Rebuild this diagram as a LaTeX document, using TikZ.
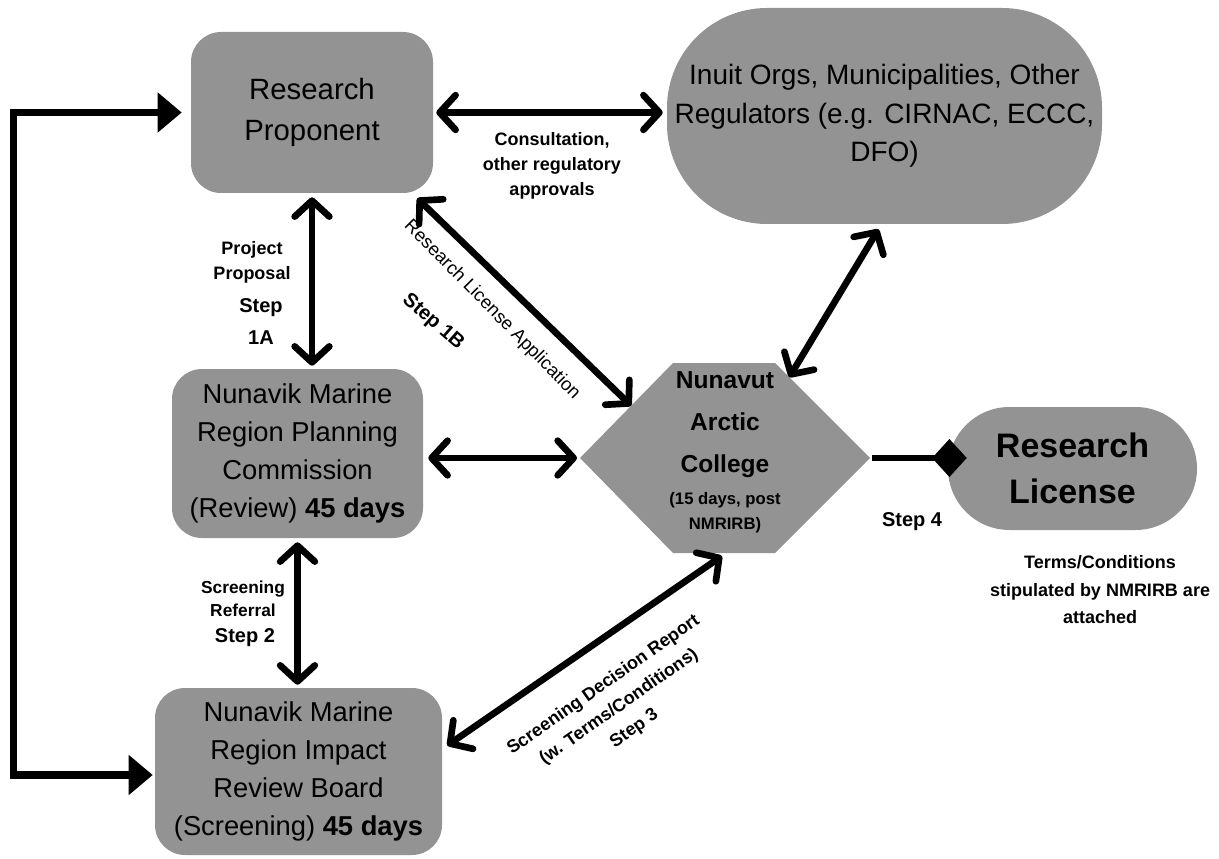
\documentclass[tikz,border=0pt]{standalone}
\usepackage{fontspec}
\setmainfont{Liberation Sans}
\usetikzlibrary{arrows.meta,calc}
\newdimen\PX \PX=0.75pt
\definecolor{boxgray}{RGB}{147,147,147}
\newcommand\myfs[2]{\fontsize{#1}{#2}\selectfont}
\begin{document}
\begin{tikzpicture}[x=0.75pt,y=-0.75pt,
  box/.style={fill=boxgray,align=center,inner sep=0pt,text=black},
  dbl/.style={line width=5pt,{Straight Barb[length=12pt,width=26pt,round]}-{Straight Barb[length=12pt,width=26pt,round]}},
  tri/.style={line width=5.5pt,{Triangle[length=18pt,width=29pt]}-{Triangle[length=18pt,width=29pt]}},
  dia/.style={line width=5pt,-{Diamond[length=26pt,width=28.5pt]}},
  lbl/.style={align=center,inner sep=0pt,font=\bfseries\myfs{13.5}{19}},
  steplbl/.style={align=center,inner sep=0pt,font=\bfseries\myfs{15}{23}},
]
\useasboundingbox (0,0) rectangle (1219,859);

% nodes
\node[box,rounded corners=30\PX,minimum width=242\PX,minimum height=161\PX,font=\myfs{22}{30.75}] (rp) at (312,112.5) {Research\\Proponent};
\node[box,rounded corners=100\PX,minimum width=435\PX,minimum height=216\PX,font=\myfs{21}{29}] (inuit) at (884.5,116) {Inuit Orgs, Municipalities, Other\\Regulators (e.g. CIRNAC, ECCC,\\DFO)};
\node[box,rounded corners=30\PX,minimum width=251\PX,minimum height=169\PX,font=\myfs{20.5}{28.5}] (nmrpc) at (297.5,453.5) {Nunavik Marine\\Region Planning\\Commission\\(Review) \textbf{45 days}};
\node[box,rounded corners=30\PX,minimum width=287\PX,minimum height=167\PX,font=\myfs{20.5}{28.5}] (nmrirb) at (298.5,771.5) {Nunavik Marine\\Region Impact\\Review Board\\(Screening) \textbf{45 days}};
\node[box,rounded corners=61.5\PX,minimum width=249\PX,minimum height=123\PX,font=\bfseries\myfs{25.5}{34}] (rl) at (1072.5,468.5) {Research\\License};

% hexagon
\coordinate (hexL) at (580,458);
\coordinate (hexTL) at (673,363);
\coordinate (hexTR) at (775,363);
\coordinate (hexR) at (870,458);
\coordinate (hexBR) at (775,553);
\coordinate (hexBL) at (673,553);
\fill[boxgray] (hexL) -- (hexTL) -- (hexTR) -- (hexR) -- (hexBR) -- (hexBL) -- cycle;
\node[align=center,inner sep=0pt,font=\bfseries\myfs{18.4}{31.5}] (nac) at (725,425) {Nunavut\\Arctic\\College};
\node[align=center,inner sep=0pt,font=\bfseries\myfs{12.5}{19}] (nacsub) at (725,512.5) {(15 days, post\\NMRIRB)};

% connectors
\draw[dbl] ([xshift=3\PX]rp.east) -- ([xshift=-4\PX]rp.east -| inuit.west);
\draw[dbl] ([yshift=-4\PX]rp.south) -- ([yshift=3\PX]rp.south |- nmrpc.north);
\draw[dbl] ([xshift=-16\PX,yshift=-5\PX]rp.south east) -- ($(hexL)!0.55!(hexTL)$);
\draw[dbl] ([xshift=-6\PX,yshift=-5\PX]inuit.south) -- ($(hexTR)!0.15!(hexR)$);
\draw[dbl] ([xshift=5\PX]nmrpc.east |- hexL) -- ([xshift=-3\PX]hexL);
\draw[dbl] ([yshift=-4\PX]nmrpc.south) -- ([yshift=3\PX]nmrpc.south |- nmrirb.north);
\draw[dbl] ([xshift=5\PX,yshift=26\PX]nmrirb.east) -- ([yshift=-3\PX]$(hexBL)!0.48!(hexBR)$);
\draw[dia] ([xshift=2\PX]hexR) -- ([xshift=19\PX]hexR -| rl.west);

\coordinate (lt) at ([xshift=-9\PX]rp.west);
\coordinate (lb) at ([xshift=-2\PX,yshift=-3.5\PX]nmrirb.west);
\draw[tri] (lt) -- ++(-168.5,0) |- (lb);

% labels
\node[lbl] (lcons) at (552,166) {Consultation,\\other regulatory\\approvals};
\node[lbl] (lproj) at (252,262.5) {Project\\Proposal};
\node[steplbl,font=\bfseries\myfs{15}{23.5}] (lstep1a) at (261,321.5) {Step\\1A};
\node[inner sep=0pt,rotate=-45.5,font=\myfs{13.8}{17}] (lrla) at (492,310) {Research License Application};
\node[steplbl,rotate=-41] (lstep1b) at (433,322) {Step 1B};
\node[lbl,font=\bfseries\myfs{13}{17.5}] (lscr) at (243,598.5) {Screening\\Referral};
\node[steplbl] (lstep2) at (245,638) {Step 2};
\node[lbl,rotate=35,font=\bfseries\myfs{13.5}{20}] (lstep3) at (619,707) {Screening Decision Report\\(w. Terms/Conditions)\\Step 3};
\node[steplbl] (lstep4) at (912,522) {Step 4};
\node[lbl,font=\bfseries\myfs{13.5}{20.6}] (lterms) at (1100,590) {Terms/Conditions\\stipulated by NMRIRB are\\attached};
\end{tikzpicture}
\end{document}
